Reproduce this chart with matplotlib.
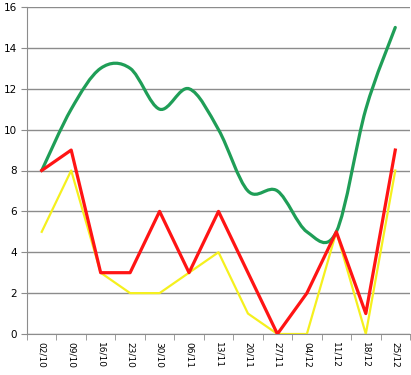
import numpy as np
import matplotlib.pyplot as plt
from matplotlib.path import Path
from matplotlib.patches import PathPatch

weeks = ['02/10', '09/10', '16/10', '23/10', '30/10', '06/11', '13/11',
         '20/11', '27/11', '04/12', '11/12', '18/12', '25/12']
green_vals = [8, 11, 13, 13, 11, 12, 10, 7, 7, 5, 5, 11, 15]
red_vals = [8, 9, 3, 3, 6, 3, 6, 3, 0, 2, 5, 1, 9]
yellow_vals = [5, 8, 3, 2, 2, 3, 4, 1, 0, 0, 5, 0, 8]


def smooth_path(xs, ys):
    """
    Bezier path through the points, like the Excel smoothed line
    """
    pts = np.column_stack([xs, ys]).astype(float)
    n = len(pts)
    verts = [pts[0]]
    codes = [Path.MOVETO]
    for i in range(n - 1):
        p0 = pts[max(i - 1, 0)]
        p1 = pts[i]
        p2 = pts[i + 1]
        p3 = pts[min(i + 2, n - 1)]
        c1 = p1 + (p2 - p0) / 6.0
        c2 = p2 - (p3 - p1) / 6.0
        verts += [c1, c2, p2]
        codes += [Path.CURVE4] * 3
    return Path(verts, codes)


fig = plt.figure(figsize=(4.11, 3.75), dpi=100)
ax = fig.add_axes([27 / 411, 41 / 375, 383 / 411, 327 / 375])

x = np.arange(len(weeks))

# green smoothed line
patch = PathPatch(smooth_path(x, green_vals), facecolor='none',
                  edgecolor='#1f9e57', lw=2.3, capstyle='round', zorder=3)
ax.add_patch(patch)
ax.plot(x, red_vals, color='#ff1414', lw=2.3, zorder=4)
ax.plot(x, yellow_vals, color='#f5f01e', lw=1.6, zorder=2)

ax.set_xlim(-0.5, len(weeks) - 0.5)
ax.set_ylim(0, 16)
ax.set_yticks(range(0, 17, 2))
ax.yaxis.grid(True, color='#8c8c8c', lw=1)
ax.set_axisbelow(True)

ax.set_xticks(x)
ax.set_xticklabels(weeks, rotation=270, fontsize=6.5)
ax.set_xticks(np.arange(-0.5, len(weeks)), minor=True)
ax.tick_params(axis='x', which='major', length=0, pad=6)
ax.tick_params(axis='x', which='minor', length=4, color='#8c8c8c', direction='out')
ax.tick_params(axis='y', length=4, color='#8c8c8c', labelsize=7.5, pad=3)

for side in ['top', 'right']:
    ax.spines[side].set_visible(False)
for side in ['left', 'bottom']:
    ax.spines[side].set_color('#8c8c8c')

fig.savefig('out.png', dpi=100)
